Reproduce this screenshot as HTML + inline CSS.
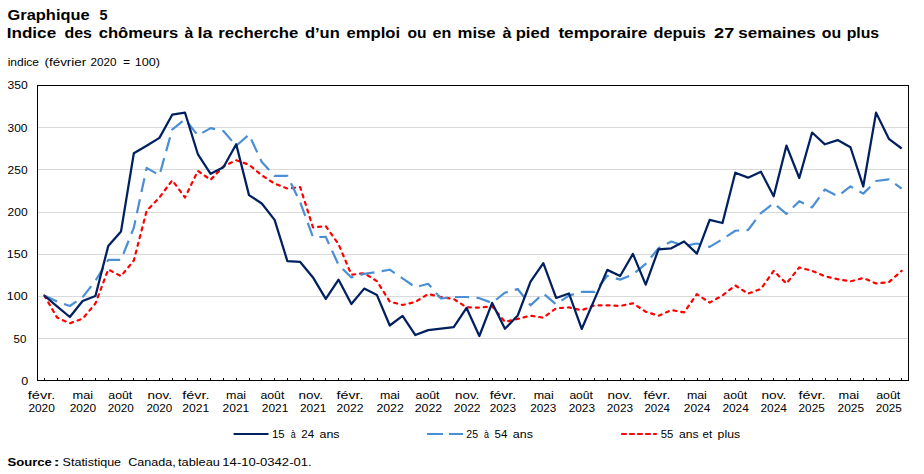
<!DOCTYPE html>
<html><head><meta charset="utf-8"><style>
html,body{margin:0;padding:0;background:#fff;width:924px;height:474px;overflow:hidden}
svg{display:block}
.t{font-family:"Liberation Sans", sans-serif;font-size:11.5px;fill:#000}
.b2{font-family:"Liberation Sans", sans-serif;font-size:11.5px;font-weight:bold;fill:#000}
.b{font-family:"Liberation Sans", sans-serif;font-size:15px;font-weight:bold;fill:#000}
</style></head><body>
<svg width="924" height="474" viewBox="0 0 924 474">
<line x1="38" y1="338.5" x2="908" y2="338.5" stroke="#d9d9d9" stroke-width="1"/>
<line x1="38" y1="296.5" x2="908" y2="296.5" stroke="#d9d9d9" stroke-width="1"/>
<line x1="38" y1="254.5" x2="908" y2="254.5" stroke="#d9d9d9" stroke-width="1"/>
<line x1="38" y1="212.5" x2="908" y2="212.5" stroke="#d9d9d9" stroke-width="1"/>
<line x1="38" y1="169.5" x2="908" y2="169.5" stroke="#d9d9d9" stroke-width="1"/>
<line x1="38" y1="127.5" x2="908" y2="127.5" stroke="#d9d9d9" stroke-width="1"/>
<line x1="44.5" y1="378" x2="44.5" y2="380" stroke="#000" stroke-width="1"/>
<line x1="57.5" y1="378" x2="57.5" y2="380" stroke="#000" stroke-width="1"/>
<line x1="69.5" y1="378" x2="69.5" y2="380" stroke="#000" stroke-width="1"/>
<line x1="82.5" y1="378" x2="82.5" y2="380" stroke="#000" stroke-width="1"/>
<line x1="95.5" y1="378" x2="95.5" y2="380" stroke="#000" stroke-width="1"/>
<line x1="108.5" y1="378" x2="108.5" y2="380" stroke="#000" stroke-width="1"/>
<line x1="121.5" y1="378" x2="121.5" y2="380" stroke="#000" stroke-width="1"/>
<line x1="133.5" y1="378" x2="133.5" y2="380" stroke="#000" stroke-width="1"/>
<line x1="146.5" y1="378" x2="146.5" y2="380" stroke="#000" stroke-width="1"/>
<line x1="159.5" y1="378" x2="159.5" y2="380" stroke="#000" stroke-width="1"/>
<line x1="172.5" y1="378" x2="172.5" y2="380" stroke="#000" stroke-width="1"/>
<line x1="185.5" y1="378" x2="185.5" y2="380" stroke="#000" stroke-width="1"/>
<line x1="197.5" y1="378" x2="197.5" y2="380" stroke="#000" stroke-width="1"/>
<line x1="210.5" y1="378" x2="210.5" y2="380" stroke="#000" stroke-width="1"/>
<line x1="223.5" y1="378" x2="223.5" y2="380" stroke="#000" stroke-width="1"/>
<line x1="236.5" y1="378" x2="236.5" y2="380" stroke="#000" stroke-width="1"/>
<line x1="249.5" y1="378" x2="249.5" y2="380" stroke="#000" stroke-width="1"/>
<line x1="261.5" y1="378" x2="261.5" y2="380" stroke="#000" stroke-width="1"/>
<line x1="274.5" y1="378" x2="274.5" y2="380" stroke="#000" stroke-width="1"/>
<line x1="287.5" y1="378" x2="287.5" y2="380" stroke="#000" stroke-width="1"/>
<line x1="300.5" y1="378" x2="300.5" y2="380" stroke="#000" stroke-width="1"/>
<line x1="313.5" y1="378" x2="313.5" y2="380" stroke="#000" stroke-width="1"/>
<line x1="325.5" y1="378" x2="325.5" y2="380" stroke="#000" stroke-width="1"/>
<line x1="338.5" y1="378" x2="338.5" y2="380" stroke="#000" stroke-width="1"/>
<line x1="351.5" y1="378" x2="351.5" y2="380" stroke="#000" stroke-width="1"/>
<line x1="364.5" y1="378" x2="364.5" y2="380" stroke="#000" stroke-width="1"/>
<line x1="377.5" y1="378" x2="377.5" y2="380" stroke="#000" stroke-width="1"/>
<line x1="389.5" y1="378" x2="389.5" y2="380" stroke="#000" stroke-width="1"/>
<line x1="402.5" y1="378" x2="402.5" y2="380" stroke="#000" stroke-width="1"/>
<line x1="415.5" y1="378" x2="415.5" y2="380" stroke="#000" stroke-width="1"/>
<line x1="428.5" y1="378" x2="428.5" y2="380" stroke="#000" stroke-width="1"/>
<line x1="441.5" y1="378" x2="441.5" y2="380" stroke="#000" stroke-width="1"/>
<line x1="453.5" y1="378" x2="453.5" y2="380" stroke="#000" stroke-width="1"/>
<line x1="466.5" y1="378" x2="466.5" y2="380" stroke="#000" stroke-width="1"/>
<line x1="479.5" y1="378" x2="479.5" y2="380" stroke="#000" stroke-width="1"/>
<line x1="492.5" y1="378" x2="492.5" y2="380" stroke="#000" stroke-width="1"/>
<line x1="505.5" y1="378" x2="505.5" y2="380" stroke="#000" stroke-width="1"/>
<line x1="517.5" y1="378" x2="517.5" y2="380" stroke="#000" stroke-width="1"/>
<line x1="530.5" y1="378" x2="530.5" y2="380" stroke="#000" stroke-width="1"/>
<line x1="543.5" y1="378" x2="543.5" y2="380" stroke="#000" stroke-width="1"/>
<line x1="556.5" y1="378" x2="556.5" y2="380" stroke="#000" stroke-width="1"/>
<line x1="569.5" y1="378" x2="569.5" y2="380" stroke="#000" stroke-width="1"/>
<line x1="581.5" y1="378" x2="581.5" y2="380" stroke="#000" stroke-width="1"/>
<line x1="594.5" y1="378" x2="594.5" y2="380" stroke="#000" stroke-width="1"/>
<line x1="607.5" y1="378" x2="607.5" y2="380" stroke="#000" stroke-width="1"/>
<line x1="620.5" y1="378" x2="620.5" y2="380" stroke="#000" stroke-width="1"/>
<line x1="633.5" y1="378" x2="633.5" y2="380" stroke="#000" stroke-width="1"/>
<line x1="645.5" y1="378" x2="645.5" y2="380" stroke="#000" stroke-width="1"/>
<line x1="658.5" y1="378" x2="658.5" y2="380" stroke="#000" stroke-width="1"/>
<line x1="671.5" y1="378" x2="671.5" y2="380" stroke="#000" stroke-width="1"/>
<line x1="684.5" y1="378" x2="684.5" y2="380" stroke="#000" stroke-width="1"/>
<line x1="697.5" y1="378" x2="697.5" y2="380" stroke="#000" stroke-width="1"/>
<line x1="709.5" y1="378" x2="709.5" y2="380" stroke="#000" stroke-width="1"/>
<line x1="722.5" y1="378" x2="722.5" y2="380" stroke="#000" stroke-width="1"/>
<line x1="735.5" y1="378" x2="735.5" y2="380" stroke="#000" stroke-width="1"/>
<line x1="748.5" y1="378" x2="748.5" y2="380" stroke="#000" stroke-width="1"/>
<line x1="761.5" y1="378" x2="761.5" y2="380" stroke="#000" stroke-width="1"/>
<line x1="773.5" y1="378" x2="773.5" y2="380" stroke="#000" stroke-width="1"/>
<line x1="786.5" y1="378" x2="786.5" y2="380" stroke="#000" stroke-width="1"/>
<line x1="799.5" y1="378" x2="799.5" y2="380" stroke="#000" stroke-width="1"/>
<line x1="812.5" y1="378" x2="812.5" y2="380" stroke="#000" stroke-width="1"/>
<line x1="825.5" y1="378" x2="825.5" y2="380" stroke="#000" stroke-width="1"/>
<line x1="837.5" y1="378" x2="837.5" y2="380" stroke="#000" stroke-width="1"/>
<line x1="850.5" y1="378" x2="850.5" y2="380" stroke="#000" stroke-width="1"/>
<line x1="863.5" y1="378" x2="863.5" y2="380" stroke="#000" stroke-width="1"/>
<line x1="876.5" y1="378" x2="876.5" y2="380" stroke="#000" stroke-width="1"/>
<line x1="889.5" y1="378" x2="889.5" y2="380" stroke="#000" stroke-width="1"/>
<line x1="901.5" y1="378" x2="901.5" y2="380" stroke="#000" stroke-width="1"/>
<rect x="37.5" y="85.5" width="871" height="295" fill="none" stroke="#000" stroke-width="1"/>
<polyline points="44.25,295.50 57.05,317.51 69.84,323.30 82.64,318.68 95.44,303.48 108.23,269.46 121.03,276.18 133.83,260.47 146.63,210.74 159.42,197.47 172.22,180.34 185.02,197.47 197.81,170.93 210.61,179.75 223.41,166.39 236.21,160.26 249.00,164.71 261.80,175.30 274.60,183.61 287.39,188.57 300.19,187.14 312.99,227.46 325.78,226.20 338.58,244.26 351.38,274.67 364.18,273.24 376.97,281.22 389.77,301.63 402.57,304.99 415.36,301.97 428.16,293.99 440.96,297.01 453.75,299.03 466.55,307.34 479.35,307.60 492.15,306.42 504.94,321.88 517.74,318.85 530.54,315.66 543.33,317.68 556.13,308.27 568.93,307.43 581.72,310.28 594.52,305.33 607.32,305.33 620.12,305.92 632.91,303.23 645.71,311.71 658.51,315.74 671.30,310.03 684.10,312.38 696.90,294.16 709.69,302.56 722.49,295.50 735.29,285.42 748.09,293.65 760.88,288.95 773.68,270.80 786.48,283.49 799.27,267.44 812.07,270.80 824.87,276.26 837.66,279.20 850.46,281.39 863.26,278.03 876.06,283.49 888.85,282.23 901.65,270.80" fill="none" stroke="#ff0000" stroke-width="2.2" stroke-dasharray="3.1,4.86" stroke-linecap="round" stroke-linejoin="round"/>
<polyline points="44.25,295.50 57.05,301.38 69.84,306.00 82.64,297.18 95.44,280.80 108.23,259.97 121.03,259.97 133.83,227.63 146.63,167.90 159.42,175.30 172.22,129.52 185.02,119.18 197.81,135.40 210.61,128.09 223.41,131.03 236.21,145.81 249.00,134.64 261.80,162.02 274.60,175.88 287.39,175.88 300.19,202.26 312.99,237.12 325.78,236.87 338.58,265.01 351.38,277.44 364.18,273.83 376.97,272.06 389.77,269.71 402.57,278.36 415.36,287.27 428.16,283.74 440.96,298.52 453.75,297.01 466.55,297.01 479.35,298.19 492.15,302.89 504.94,292.73 517.74,288.95 530.54,305.33 543.33,293.48 556.13,304.40 568.93,295.58 581.72,291.97 594.52,291.97 607.32,275.76 620.12,279.62 632.91,274.50 645.71,263.83 658.51,248.29 671.30,241.49 684.10,245.94 696.90,243.50 709.69,246.86 722.49,239.22 735.29,230.74 748.09,229.98 760.88,213.18 773.68,203.27 786.48,213.94 799.27,201.17 812.07,207.47 824.87,189.41 837.66,196.21 850.46,186.47 863.26,193.61 876.06,181.01 888.85,179.33 901.65,188.57" fill="none" stroke="#4a8fd6" stroke-width="2.2" stroke-dasharray="14.2,7.35" stroke-linejoin="round"/>
<polyline points="44.25,295.50 57.05,306.42 69.84,317.00 82.64,301.04 95.44,295.92 108.23,246.11 121.03,231.41 133.83,153.20 146.63,145.81 159.42,137.83 172.22,114.73 185.02,112.72 197.81,154.04 210.61,173.78 223.41,167.32 236.21,144.30 249.00,195.12 261.80,203.44 274.60,219.90 287.39,261.06 300.19,261.98 312.99,277.44 325.78,298.94 338.58,279.71 351.38,303.98 364.18,288.61 376.97,295.08 389.77,325.49 402.57,315.91 415.36,335.06 428.16,330.11 440.96,328.60 453.75,327.08 466.55,307.93 479.35,335.99 492.15,302.89 504.94,328.76 517.74,315.49 530.54,281.72 543.33,263.08 556.13,297.94 568.93,293.48 581.72,328.93 594.52,299.36 607.32,269.88 620.12,276.01 632.91,253.92 645.71,284.66 658.51,249.30 671.30,248.29 684.10,241.49 696.90,253.67 709.69,219.90 722.49,223.01 735.29,172.69 748.09,177.65 760.88,171.68 773.68,196.21 786.48,145.56 799.27,177.98 812.07,132.54 824.87,144.30 837.66,140.10 850.46,147.24 863.26,186.47 876.06,112.63 888.85,138.84 901.65,148.50" fill="none" stroke="#002060" stroke-width="2.25" stroke-linejoin="round"/>
<line x1="233.6" y1="434" x2="268.5" y2="434" stroke="#002060" stroke-width="2"/>
<line x1="427" y1="434" x2="463" y2="434" stroke="#4a8fd6" stroke-width="2" stroke-dasharray="16,6"/>
<line x1="622" y1="434" x2="656" y2="434" stroke="#ff0000" stroke-width="2.2" stroke-dasharray="3.9,4.1" stroke-linecap="round"/>
<text x="7.60" y="20" class="b" textLength="82.02" lengthAdjust="spacingAndGlyphs">Graphique</text>
<text x="99.40" y="20" class="b" textLength="8.03" lengthAdjust="spacingAndGlyphs">5</text>
<text x="6.66" y="38" class="b" textLength="49.55" lengthAdjust="spacingAndGlyphs">Indice</text>
<text x="64.40" y="38" class="b" textLength="27.55" lengthAdjust="spacingAndGlyphs">des</text>
<text x="98.70" y="38" class="b" textLength="79.48" lengthAdjust="spacingAndGlyphs">chômeurs</text>
<text x="184.40" y="38" class="b" textLength="8.81" lengthAdjust="spacingAndGlyphs">à</text>
<text x="197.48" y="38" class="b" textLength="15.23" lengthAdjust="spacingAndGlyphs">la</text>
<text x="218.39" y="38" class="b" textLength="79.81" lengthAdjust="spacingAndGlyphs">recherche</text>
<text x="304.90" y="38" class="b" textLength="34.82" lengthAdjust="spacingAndGlyphs">d’un</text>
<text x="346.60" y="38" class="b" textLength="53.48" lengthAdjust="spacingAndGlyphs">emploi</text>
<text x="407.50" y="38" class="b" textLength="19.04" lengthAdjust="spacingAndGlyphs">ou</text>
<text x="432.60" y="38" class="b" textLength="18.75" lengthAdjust="spacingAndGlyphs">en</text>
<text x="457.48" y="38" class="b" textLength="38.25" lengthAdjust="spacingAndGlyphs">mise</text>
<text x="502.50" y="38" class="b" textLength="8.99" lengthAdjust="spacingAndGlyphs">à</text>
<text x="515.69" y="38" class="b" textLength="34.14" lengthAdjust="spacingAndGlyphs">pied</text>
<text x="558.40" y="38" class="b" textLength="88.91" lengthAdjust="spacingAndGlyphs">temporaire</text>
<text x="653.50" y="38" class="b" textLength="52.37" lengthAdjust="spacingAndGlyphs">depuis</text>
<text x="714.10" y="38" class="b" textLength="20.23" lengthAdjust="spacingAndGlyphs">27</text>
<text x="738.30" y="38" class="b" textLength="77.34" lengthAdjust="spacingAndGlyphs">semaines</text>
<text x="821.80" y="38" class="b" textLength="19.35" lengthAdjust="spacingAndGlyphs">ou</text>
<text x="846.65" y="38" class="b" textLength="32.49" lengthAdjust="spacingAndGlyphs">plus</text>
<text x="7.70" y="66" class="t" textLength="31.37" lengthAdjust="spacingAndGlyphs">indice</text>
<text x="44.50" y="66" class="t" textLength="41.74" lengthAdjust="spacingAndGlyphs">(février</text>
<text x="90.50" y="66" class="t" textLength="25.89" lengthAdjust="spacingAndGlyphs">2020</text>
<text x="122.90" y="66" class="t" textLength="7.10" lengthAdjust="spacingAndGlyphs">=</text>
<text x="134.70" y="66" class="t" textLength="25.33" lengthAdjust="spacingAndGlyphs">100)</text>
<text x="7.40" y="89" class="t" textLength="20.30" lengthAdjust="spacingAndGlyphs">350</text>
<text x="7.60" y="132" class="t" textLength="19.89" lengthAdjust="spacingAndGlyphs">300</text>
<text x="7.60" y="174" class="t" textLength="20.00" lengthAdjust="spacingAndGlyphs">250</text>
<text x="7.60" y="216" class="t" textLength="20.00" lengthAdjust="spacingAndGlyphs">200</text>
<text x="6.82" y="258" class="t" textLength="20.79" lengthAdjust="spacingAndGlyphs">150</text>
<text x="6.82" y="300" class="t" textLength="20.79" lengthAdjust="spacingAndGlyphs">100</text>
<text x="13.60" y="343" class="t" textLength="12.80" lengthAdjust="spacingAndGlyphs">50</text>
<text x="21.20" y="385" class="t" textLength="6.94" lengthAdjust="spacingAndGlyphs">0</text>
<text x="27.80" y="399" class="t" textLength="27.53" lengthAdjust="spacingAndGlyphs">févr.</text>
<text x="28.40" y="412" class="t" textLength="26.48" lengthAdjust="spacingAndGlyphs">2020</text>
<text x="72.50" y="399" class="t" textLength="20.59" lengthAdjust="spacingAndGlyphs">mai</text>
<text x="69.70" y="412" class="t" textLength="26.48" lengthAdjust="spacingAndGlyphs">2020</text>
<text x="108.30" y="399" class="t" textLength="23.95" lengthAdjust="spacingAndGlyphs">août</text>
<text x="107.80" y="412" class="t" textLength="26.09" lengthAdjust="spacingAndGlyphs">2020</text>
<text x="147.60" y="399" class="t" textLength="24.44" lengthAdjust="spacingAndGlyphs">nov.</text>
<text x="146.40" y="412" class="t" textLength="25.89" lengthAdjust="spacingAndGlyphs">2020</text>
<text x="182.30" y="399" class="t" textLength="27.32" lengthAdjust="spacingAndGlyphs">févr.</text>
<text x="182.30" y="412" class="t" textLength="27.03" lengthAdjust="spacingAndGlyphs">2021</text>
<text x="226.00" y="399" class="t" textLength="20.08" lengthAdjust="spacingAndGlyphs">mai</text>
<text x="222.60" y="412" class="t" textLength="26.62" lengthAdjust="spacingAndGlyphs">2021</text>
<text x="260.40" y="399" class="t" textLength="23.95" lengthAdjust="spacingAndGlyphs">août</text>
<text x="261.80" y="412" class="t" textLength="26.52" lengthAdjust="spacingAndGlyphs">2021</text>
<text x="298.50" y="399" class="t" textLength="24.44" lengthAdjust="spacingAndGlyphs">nov.</text>
<text x="299.90" y="412" class="t" textLength="26.52" lengthAdjust="spacingAndGlyphs">2021</text>
<text x="336.60" y="399" class="t" textLength="26.91" lengthAdjust="spacingAndGlyphs">févr.</text>
<text x="336.60" y="412" class="t" textLength="26.92" lengthAdjust="spacingAndGlyphs">2022</text>
<text x="379.90" y="399" class="t" textLength="19.97" lengthAdjust="spacingAndGlyphs">mai</text>
<text x="376.40" y="412" class="t" textLength="27.44" lengthAdjust="spacingAndGlyphs">2022</text>
<text x="415.60" y="399" class="t" textLength="23.95" lengthAdjust="spacingAndGlyphs">août</text>
<text x="414.70" y="412" class="t" textLength="27.54" lengthAdjust="spacingAndGlyphs">2022</text>
<text x="455.10" y="399" class="t" textLength="24.23" lengthAdjust="spacingAndGlyphs">nov.</text>
<text x="453.70" y="412" class="t" textLength="26.92" lengthAdjust="spacingAndGlyphs">2022</text>
<text x="489.70" y="399" class="t" textLength="26.39" lengthAdjust="spacingAndGlyphs">févr.</text>
<text x="489.70" y="412" class="t" textLength="26.28" lengthAdjust="spacingAndGlyphs">2023</text>
<text x="533.70" y="399" class="t" textLength="20.08" lengthAdjust="spacingAndGlyphs">mai</text>
<text x="530.20" y="412" class="t" textLength="26.09" lengthAdjust="spacingAndGlyphs">2023</text>
<text x="569.40" y="399" class="t" textLength="23.56" lengthAdjust="spacingAndGlyphs">août</text>
<text x="568.70" y="412" class="t" textLength="26.28" lengthAdjust="spacingAndGlyphs">2023</text>
<text x="607.50" y="399" class="t" textLength="24.55" lengthAdjust="spacingAndGlyphs">nov.</text>
<text x="606.80" y="412" class="t" textLength="26.28" lengthAdjust="spacingAndGlyphs">2023</text>
<text x="643.50" y="399" class="t" textLength="26.91" lengthAdjust="spacingAndGlyphs">févr.</text>
<text x="644.40" y="412" class="t" textLength="25.50" lengthAdjust="spacingAndGlyphs">2024</text>
<text x="686.90" y="399" class="t" textLength="19.97" lengthAdjust="spacingAndGlyphs">mai</text>
<text x="683.80" y="412" class="t" textLength="26.58" lengthAdjust="spacingAndGlyphs">2024</text>
<text x="723.30" y="399" class="t" textLength="23.95" lengthAdjust="spacingAndGlyphs">août</text>
<text x="722.40" y="412" class="t" textLength="26.48" lengthAdjust="spacingAndGlyphs">2024</text>
<text x="761.40" y="399" class="t" textLength="24.96" lengthAdjust="spacingAndGlyphs">nov.</text>
<text x="760.50" y="412" class="t" textLength="26.48" lengthAdjust="spacingAndGlyphs">2024</text>
<text x="798.60" y="399" class="t" textLength="26.91" lengthAdjust="spacingAndGlyphs">févr.</text>
<text x="798.60" y="412" class="t" textLength="26.09" lengthAdjust="spacingAndGlyphs">2025</text>
<text x="838.50" y="399" class="t" textLength="20.59" lengthAdjust="spacingAndGlyphs">mai</text>
<text x="837.60" y="412" class="t" textLength="26.48" lengthAdjust="spacingAndGlyphs">2025</text>
<text x="876.20" y="399" class="t" textLength="24.14" lengthAdjust="spacingAndGlyphs">août</text>
<text x="875.70" y="412" class="t" textLength="26.18" lengthAdjust="spacingAndGlyphs">2025</text>
<text x="272.01" y="438" class="t" textLength="12.69" lengthAdjust="spacingAndGlyphs">15</text>
<text x="290.70" y="438" class="t" textLength="4.94" lengthAdjust="spacingAndGlyphs">à</text>
<text x="301.30" y="438" class="t" textLength="12.80" lengthAdjust="spacingAndGlyphs">24</text>
<text x="319.50" y="438" class="t" textLength="20.09" lengthAdjust="spacingAndGlyphs">ans</text>
<text x="466.30" y="438" class="t" textLength="11.71" lengthAdjust="spacingAndGlyphs">25</text>
<text x="484.00" y="438" class="t" textLength="4.94" lengthAdjust="spacingAndGlyphs">à</text>
<text x="494.60" y="438" class="t" textLength="12.80" lengthAdjust="spacingAndGlyphs">54</text>
<text x="512.80" y="438" class="t" textLength="20.09" lengthAdjust="spacingAndGlyphs">ans</text>
<text x="660.70" y="438" class="t" textLength="12.60" lengthAdjust="spacingAndGlyphs">55</text>
<text x="678.90" y="438" class="t" textLength="19.58" lengthAdjust="spacingAndGlyphs">ans</text>
<text x="702.60" y="438" class="t" textLength="9.50" lengthAdjust="spacingAndGlyphs">et</text>
<text x="717.60" y="438" class="t" textLength="22.52" lengthAdjust="spacingAndGlyphs">plus</text>
<text x="7.40" y="466" class="b2" textLength="44.50" lengthAdjust="spacingAndGlyphs">Source</text>
<text x="53.55" y="466" class="b2" textLength="6.34" lengthAdjust="spacingAndGlyphs">:</text>
<text x="62.60" y="466" class="t" textLength="58.48" lengthAdjust="spacingAndGlyphs">Statistique</text>
<text x="128.20" y="466" class="t" textLength="47.53" lengthAdjust="spacingAndGlyphs">Canada,</text>
<text x="178.00" y="466" class="t" textLength="41.92" lengthAdjust="spacingAndGlyphs">tableau</text>
<text x="222.36" y="466" class="t" textLength="89.28" lengthAdjust="spacingAndGlyphs">14-10-0342-01.</text>
</svg>
</body></html>
